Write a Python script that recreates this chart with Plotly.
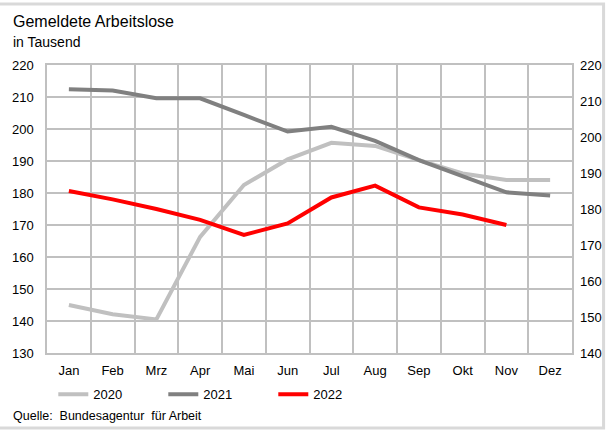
import plotly.graph_objects as go

months = ["Jan", "Feb", "Mrz", "Apr", "Mai", "Jun", "Jul", "Aug", "Sep", "Okt", "Nov", "Dez"]
y2020 = [145.0, 142.1, 140.5, 166.3, 182.5, 190.5, 195.7, 194.7, 190.3, 186.1, 184.1, 184.1]
y2021 = [212.4, 212.0, 209.6, 209.6, 204.4, 199.2, 200.7, 196.3, 190.3, 185.3, 180.2, 179.2]
y2022 = [180.6, 178.0, 175.0, 171.6, 166.9, 170.5, 178.6, 182.3, 175.5, 173.3, 170.0]

x = list(range(len(months)))
font = "Liberation Sans, Arial, sans-serif"
grid = "#c0c0c0"

fig = go.Figure()
fig.add_trace(go.Scatter(x=x, y=y2020, name="2020", mode="lines",
                         line=dict(color="#c0c0c0", width=4)))
fig.add_trace(go.Scatter(x=x, y=y2021, name="2021", mode="lines",
                         line=dict(color="#808080", width=4)))
fig.add_trace(go.Scatter(x=x[:len(y2022)], y=y2022, name="2022", mode="lines",
                         line=dict(color="#ff0000", width=4)))
# invisible trace so the secondary axis is drawn
fig.add_trace(go.Scatter(x=[0], y=[180], yaxis="y2", mode="markers",
                         marker=dict(opacity=0), showlegend=False, hoverinfo="skip"))

fig.update_layout(
    width=614, height=432,
    margin=dict(l=46, r=36, t=65, b=79),
    paper_bgcolor="white", plot_bgcolor="white",
    font=dict(family=font, size=13, color="black"),
    showlegend=True,
    legend=dict(orientation="h", x=0.012, y=-0.091, xanchor="left", yanchor="top",
                entrywidth=65, entrywidthmode="pixels", itemwidth=30,
                font=dict(size=13), bgcolor="rgba(0,0,0,0)", tracegroupgap=0),
    xaxis=dict(range=[-0.5, 11.5], tickmode="array", tickvals=x, ticktext=months,
               showgrid=False, ticks="", zeroline=False,
               showline=True, linecolor=grid, linewidth=1.5, mirror=True,
               minor=dict(tick0=-0.5, dtick=1, showgrid=True, gridcolor=grid, gridwidth=1.5, ticks=""),
               ticklabelstandoff=5),
    yaxis=dict(range=[130, 220], dtick=10, showgrid=True, gridcolor=grid, gridwidth=1.5,
               zeroline=False, showline=True, linecolor=grid, linewidth=1.5, mirror=True,
               ticks="", ticklabelstandoff=9),
    yaxis2=dict(range=[140, 220], dtick=10, overlaying="y", side="right", showgrid=False,
                zeroline=False, showline=False, ticks="", ticklabelstandoff=7),
)

fig.add_annotation(text="Gemeldete Arbeitslose", xref="paper", yref="paper",
                   x=-0.068, y=1.0, xanchor="left", yanchor="bottom",
                   yshift=33, showarrow=False, font=dict(size=16))
fig.add_annotation(text="in Tausend", xref="paper", yref="paper",
                   x=-0.068, y=1.0, xanchor="left", yanchor="bottom",
                   yshift=13, showarrow=False, font=dict(size=14))
fig.add_annotation(text="Quelle:  Bundesagentur  für Arbeit", xref="paper", yref="paper",
                   x=-0.068, y=0, xanchor="left", yanchor="top",
                   yshift=-54, showarrow=False, font=dict(size=12.5))

# outer frame
fig.add_shape(type="rect", xref="paper", yref="paper",
              x0=-80/532, x1=1+32/532, y0=-75/288, y1=1+61/288,
              line=dict(color="#d9d9d9", width=3))

fig.write_html("out.html")
